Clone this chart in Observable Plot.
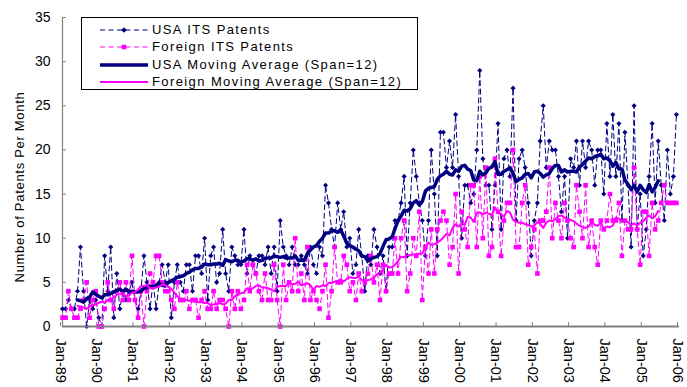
<!DOCTYPE html>
<html>
<head>
<meta charset="utf-8">
<script src="https://cdn.jsdelivr.net/npm/d3@7"></script>
<script src="https://cdn.jsdelivr.net/npm/@observablehq/plot@0.6"></script>
<style>
  body { margin: 0; background: #fff; font-family: "Liberation Sans", Arial, sans-serif; }
  #wrap { position: relative; width: 687px; height: 387px; }
  #legend { position: absolute; left: 81px; top: 17px; width: 337px; height: 73px; border: 1px solid #000; background: #fff; box-sizing: border-box; }
  .row { position: absolute; left: 18px; height: 14px; display: flex; align-items: center; white-space: nowrap; }
  .row svg { display: block; }
  .row span { margin-left: 4px; font-size: 13px; letter-spacing: 1.4px; color: #000; line-height: 14px; }
  #ylabel { position: absolute; left: 19px; top: 187px; transform: translate(-50%, -50%) rotate(-90deg); font-size: 13px; letter-spacing: 0.7px; white-space: nowrap; color: #000; }
</style>
</head>
<body>
<div id="wrap"></div>
<script>
// Monthly ITS patent counts, Jan-89 .. Dec-05 (one row per year)
const usaPatents = [
  2, 2, 3, 2, 2, 4, 9, 4, 0, 3, 2, 3,        // 1989
  1, 0, 8, 4, 9, 1, 6, 2, 4, 3, 4, 5,        // 1990
  3, 2, 4, 8, 5, 2, 5, 2, 5, 7, 5, 7,        // 1991
  1, 5, 7, 5, 4, 7, 7, 4, 8, 8, 6, 10,       // 1992
  3, 8, 9, 5, 6, 11, 6, 4, 9, 8, 7, 7,       // 1993
  11, 6, 8, 7, 6, 8, 8, 7, 9, 6, 9, 4,       // 1994
  12, 9, 8, 7, 9, 7, 7, 8, 7, 6, 9, 7,       // 1995
  6, 9, 8, 16, 14, 11, 9, 14, 11, 13, 9, 10, // 1996
  6, 7, 11, 8, 4, 8, 7, 11, 9, 6, 8, 4,      // 1997
  9, 9, 12, 12, 14, 17, 8, 14, 20, 17, 14, 12, // 1998
  8, 12, 20, 15, 8, 22, 22, 18, 21, 18, 24, 17, // 1999
  10, 16, 16, 14, 15, 20, 29, 19, 16, 16, 11, 16, // 2000
  23, 11, 19, 20, 17, 27, 12, 19, 20, 18, 14, 8, // 2001
  12, 14, 21, 25, 18, 21, 20, 20, 17, 13, 17, 10, // 2002
  19, 18, 21, 16, 21, 18, 21, 20, 16, 20, 20, 15, // 2003
  23, 17, 24, 17, 23, 12, 22, 16, 9, 25, 11, 15,  // 2004
  8, 11, 17, 23, 14, 21, 16, 12, 20, 15, 17, 24   // 2005
];
const foreignPatents = [
  1, 1, 4, 2, 1, 1, 2, 3, 5, 1, 3, 4,        // 1989
  0, 0, 2, 5, 3, 2, 4, 5, 3, 5, 3, 8,        // 1990
  3, 1, 4, 0, 4, 6, 5, 8, 8, 5, 4, 4,        // 1991
  3, 2, 5, 3, 3, 4, 2, 3, 3, 1, 3, 4,        // 1992
  2, 2, 4, 2, 3, 3, 2, 0, 4, 2, 4, 2,        // 1993
  3, 7, 4, 7, 6, 4, 3, 6, 3, 3, 7, 3,        // 1994
  0, 7, 3, 5, 4, 10, 4, 6, 3, 9, 3, 4,       // 1995
  3, 2, 4, 7, 1, 4, 9, 5, 5, 8, 7, 4,        // 1996
  5, 3, 6, 4, 5, 6, 8, 5, 7, 3, 7, 4,        // 1997
  6, 6, 10, 6, 10, 12, 4, 6, 10, 8, 13, 3,   // 1998
  9, 6, 11, 6, 11, 12, 13, 12, 7, 9, 15, 6,  // 1999
  13, 11, 9, 16, 16, 9, 17, 10, 18, 8, 9, 19, // 2000
  13, 8, 12, 14, 14, 20, 9, 9, 14, 16, 7, 9,  // 2001
  11, 6, 12, 12, 13, 18, 10, 14, 12, 10, 14, 12, // 2002
  10, 9, 16, 13, 10, 16, 9, 12, 9, 7, 12, 11,    // 2003
  12, 15, 12, 12, 14, 8, 12, 11, 11, 18, 11, 7,  // 2004
  13, 13, 8, 14, 11, 12, 14, 16, 14, 14, 14, 14  // 2005
];
const seriesNames = ["USA ITS Patents", "Foreign ITS Patents", "USA Moving Average (Span=12)", "Foreign Moving Average (Span=12)"];
const span = 12;
const yTicks = [0, 5, 10, 15, 20, 25, 30, 35];
const firstMonth = new Date(Date.UTC(1989, 0, 1));
const lastTick = new Date(Date.UTC(2006, 0, 1));
const yearTicks = d3.utcYears(firstMonth, new Date(Date.UTC(2006, 0, 2)));
const yTitle = "Number of Patents Per Month";

const NAVY = "#000080", MAG = "#ff00ff", AXIS = "#808080";

const rows = usaPatents.map((v, i) => ({
  date: d3.utcMonth.offset(firstMonth, i),
  usa: v,
  foreign: foreignPatents[i]
}));

const chart = Plot.plot({
  width: 687,
  height: 387,
  marginLeft: 62,
  marginRight: 8,
  marginTop: 17,
  marginBottom: 61,
  style: { fontFamily: "'Liberation Sans', Arial, sans-serif", fontSize: "14px", background: "#fff", color: "#000" },
  x: { type: "utc", domain: [firstMonth, lastTick] },
  y: { domain: [0, 35] },
  marks: [
    Plot.axisY({ ticks: yTicks, tickSize: -4, tickPadding: 16, stroke: AXIS, fill: "#000", fontSize: 14, label: null }),
    Plot.axisX({ ticks: yearTicks, tickFormat: d3.utcFormat("%b-%y"), tickRotate: 90, tickSize: -4, tickPadding: 16, stroke: AXIS, fill: "#000", fontSize: 14.5, label: null, dx: -2 }),
    Plot.ruleX([firstMonth], { stroke: AXIS, strokeWidth: 1.2 }),
    Plot.line(rows, { x: "date", y: "usa", stroke: NAVY, strokeWidth: 1, strokeDasharray: "5,3.5" }),
    Plot.dot(rows, { x: "date", y: "usa", symbol: "diamond2", fill: NAVY, r: 2.3, stroke: "none" }),
    Plot.line(rows, { x: "date", y: "foreign", stroke: MAG, strokeWidth: 1, strokeDasharray: "5,3.5" }),
    Plot.dot(rows, { x: "date", y: "foreign", symbol: "square", fill: MAG, r: 2.6, stroke: "none" }),
    Plot.lineY(rows, Plot.windowY({ k: span, anchor: "middle", strict: true }, { x: "date", y: "usa", stroke: NAVY, strokeWidth: 3.5 })),
    Plot.lineY(rows, Plot.windowY({ k: span, anchor: "middle", strict: true }, { x: "date", y: "foreign", stroke: MAG, strokeWidth: 2 })),
    Plot.ruleY([0], { stroke: AXIS, strokeWidth: 2 })
  ]
});

const wrap = document.getElementById("wrap");
wrap.appendChild(chart);

// y-axis title
const yl = document.createElement("div");
yl.id = "ylabel";
yl.textContent = yTitle;
wrap.appendChild(yl);

// legend
const legend = document.createElement("div");
legend.id = "legend";
const rowTops = [5, 22, 40, 57];
const samples = [
  `<line x1="0" y1="7" x2="48" y2="7" stroke="${NAVY}" stroke-width="1" stroke-dasharray="5,3.5"/><path d="M24,4.2L26.8,7L24,9.8L21.2,7Z" fill="${NAVY}"/>`,
  `<line x1="0" y1="7" x2="48" y2="7" stroke="${MAG}" stroke-width="1" stroke-dasharray="5,3.5"/><rect x="21.7" y="4.7" width="4.6" height="4.6" fill="${MAG}"/>`,
  `<line x1="0" y1="7" x2="48" y2="7" stroke="${NAVY}" stroke-width="3.5"/>`,
  `<line x1="0" y1="7" x2="48" y2="7" stroke="${MAG}" stroke-width="2"/>`
];
seriesNames.forEach((name, i) => {
  const r = document.createElement("div");
  r.className = "row";
  r.style.top = rowTops[i] + "px";
  r.innerHTML = `<svg width="48" height="14">${samples[i]}</svg><span></span>`;
  r.querySelector("span").textContent = name;
  legend.appendChild(r);
});
wrap.appendChild(legend);
</script>
</body>
</html>
